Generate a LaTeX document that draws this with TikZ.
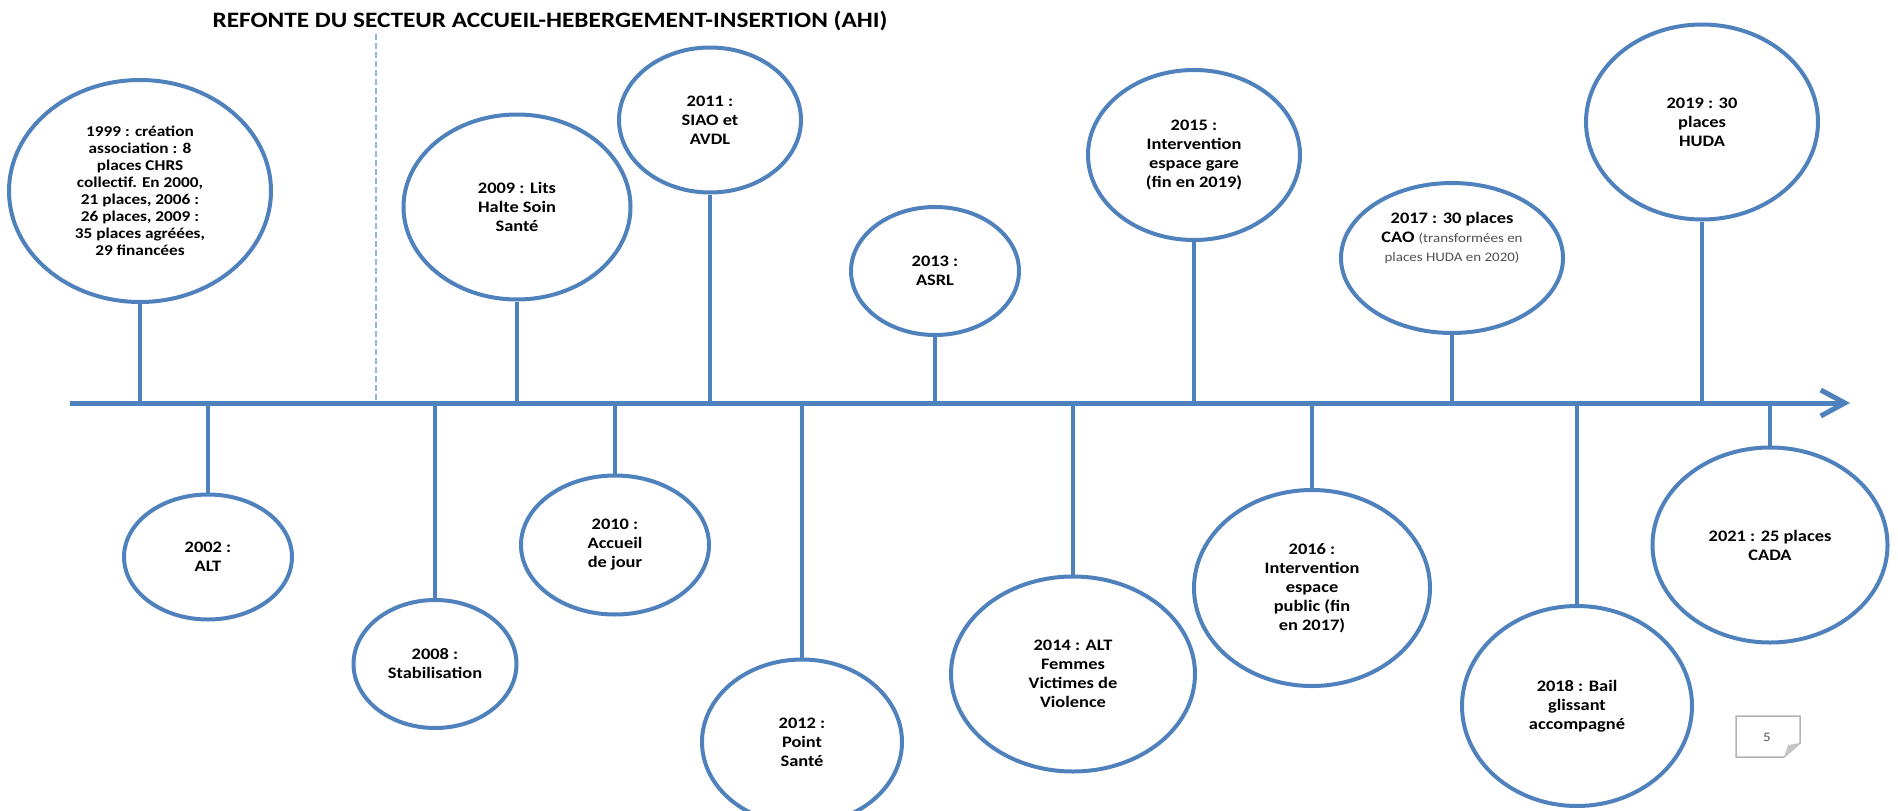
\documentclass[tikz,border=0pt]{standalone}
\usepackage{fontspec}
\setmainfont{Carlito}[FakeStretch=1.15]
\usetikzlibrary{shapes.geometric,arrows.meta}
\definecolor{ahiblue}{RGB}{79,129,189}
\definecolor{dashblue}{RGB}{149,179,215}
\definecolor{notegray}{RGB}{80,80,80}
\begin{document}
\begin{tikzpicture}[x=1pt,y=-1pt,every node/.style={font=\fontsize{16}{19}\selectfont\bfseries},
  ev/.style={draw=ahiblue,line width=4pt,ellipse,inner sep=0pt,align=center},
  stem/.style={draw=ahiblue,line width=4.5pt}]
\useasboundingbox (0,0) rectangle (1898,811);
% titre et separation AHI
\node[anchor=west,font=\fontsize{22}{26}\selectfont\bfseries] (titre) at (209,21) {REFONTE DU SECTEUR ACCUEIL-HEBERGEMENT-INSERTION (AHI)};
\coordinate (haut) at (376,34); \coordinate (bas) at (376,400);
\draw[dashblue,line width=1.5pt,dash pattern=on 6pt off 3pt] (haut) -- (bas);
% frise
\coordinate (debut) at (70,403); \coordinate (fin) at (1850,403);
% evenements au-dessus
\node[ev,minimum width=262pt,minimum height=222pt,font=\fontsize{15}{17}\selectfont\bfseries] (a1999) at (140,191) {1999 : création\\association : 8\\places CHRS\\collectif. En 2000,\\21 places, 2006 :\\26 places, 2009 :\\35 places agréées,\\29 financées};
\node[ev,minimum width=227pt,minimum height=185pt] (a2009) at (517,207) {2009 : Lits\\Halte Soin\\Santé};
\node[ev,minimum width=182pt,minimum height=145pt] (a2011) at (710,120) {2011 :\\SIAO et\\AVDL};
\node[ev,minimum width=168pt,minimum height=128pt] (a2013) at (935,271) {2013 :\\ASRL};
\node[ev,minimum width=212pt,minimum height=170pt] (a2015) at (1194,155) {2015 :\\Intervention\\espace gare\\(fin en 2019)};
\node[ev,minimum width=222pt,minimum height=150pt] (a2017) at (1452,258) {};
\node[align=center] (t2017) at ([yshift=20pt]a2017.center) {2017 : 30 places\\CAO {\mdseries\fontsize{13}{16}\selectfont\color{notegray}(transformées en}\\{\mdseries\fontsize{13}{16}\selectfont\color{notegray}places HUDA en 2020)}};
\node[ev,minimum width=232pt,minimum height=195pt] (a2019) at (1702,122) {2019 : 30\\places\\HUDA};
% evenements au-dessous
\node[ev,minimum width=168pt,minimum height=125pt] (a2002) at (208,557) {2002 :\\ALT};
\node[ev,minimum width=163pt,minimum height=128pt] (a2008) at (435,664) {2008 :\\Stabilisation};
\node[ev,minimum width=188pt,minimum height=139pt] (a2010) at (615,545) {2010 :\\Accueil\\de jour};
\node[ev,minimum width=200pt,minimum height=165pt] (a2012) at (802,742) {2012 :\\Point\\Santé};
\node[ev,minimum width=244pt,minimum height=195pt] (a2014) at (1073,674) {2014 : ALT\\Femmes\\Victimes de\\Violence};
\node[ev,minimum width=236pt,minimum height=196pt] (a2016) at (1312,588) {2016 :\\Intervention\\espace\\public (fin\\en 2017)};
\node[ev,minimum width=230pt,minimum height=200pt] (a2018) at (1577,706) {2018 : Bail\\glissant\\accompagné};
\node[ev,minimum width=235pt,minimum height=195pt] (a2021) at (1770,545) {2021 : 25 places\\CADA};
\foreach \n in {a1999,a2009,a2011,a2013,a2015,a2017,a2019,a2002,a2008,a2010,a2012,a2014,a2016,a2018,a2021}
  \draw[stem] (\n) -- (\n |- debut);
\draw[ahiblue,line width=5pt,-{Straight Barb[length=24pt,width=26pt]}] (debut) -- (fin);
% numero de page
\draw[gray!60,line width=1.5pt] (1736,716) -- (1800,716) -- (1800,743) -- (1784,757) -- (1736,757) -- cycle;
\fill[gray!45] (1800,743) -- (1788,745) -- (1784,757) -- cycle;
\node[font=\fontsize{13}{15}\selectfont,text=notegray] (page) at (1767,737) {5};
\end{tikzpicture}
\end{document}
